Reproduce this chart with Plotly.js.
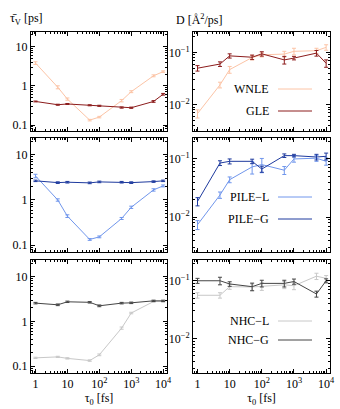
<!DOCTYPE html>
<html>
<head>
<meta charset="utf-8">
<script src="https://cdn.plot.ly/plotly-3.0.1.min.js"></script>
<style>
  html, body { margin: 0; padding: 0; background: #fff; }
  #plot { width: 340px; height: 409px; }
</style>
</head>
<body>
<div id="plot"></div>
<script>
// tau_0 in fs
var tau0 = [1, 5, 10, 50, 100, 500, 1000, 5000, 10000];

// relaxation time tau_V [ps]
var tauWNLE = [3.8, 0.92, 0.46, 0.134, 0.16, 0.42, 0.71, 1.8, 2.3];
var tauWNLEerr = [0.3, 0.08, 0.03, 0.006, 0.007, 0.03, 0.04, 0.1, 0.1];
var tauGLE = [0.40, 0.33, 0.345, 0.32, 0.31, 0.28, 0.277, 0.40, 0.61];
var tauGLEerr = [0.01, 0.01, 0.01, 0.01, 0.01, 0.01, 0.01, 0.02, 0.03];
var tauPILEL = [3.4, 1.0, 0.44, 0.134, 0.153, 0.39, 0.69, 1.67, 2.05];
var tauPILELerr = [0.3, 0.06, 0.03, 0.006, 0.007, 0.02, 0.04, 0.1, 0.1];
var tauPILEG = [2.65, 2.42, 2.47, 2.39, 2.51, 2.47, 2.42, 2.55, 2.65];
var tauPILEGerr = [0.1, 0.1, 0.1, 0.1, 0.1, 0.1, 0.1, 0.1, 0.1];
var tauNHCL = [0.154, 0.162, 0.15, 0.134, 0.18, 0.71, 1.54, 2.78, 2.78];
var tauNHCLerr = [0.005, 0.005, 0.005, 0.005, 0.008, 0.04, 0.06, 0.1, 0.1];
var tauNHCG = [2.56, 2.35, 2.74, 2.67, 2.23, 2.56, 2.6, 2.88, 2.88];
var tauNHCGerr = [0.1, 0.1, 0.1, 0.1, 0.1, 0.1, 0.1, 0.1, 0.1];

// diffusion coefficient D [A^2/ps]
var dWNLE = [0.0068, 0.024, 0.047, 0.080, 0.090, 0.093, 0.105, 0.108, 0.125];
var dWNLEerr = [0.0012, 0.003, 0.007, 0.008, 0.008, 0.012, 0.015, 0.012, 0.015];
var dGLE = [0.050, 0.060, 0.086, 0.081, 0.094, 0.072, 0.078, 0.097, 0.062];
var dGLEerr = [0.006, 0.006, 0.008, 0.008, 0.009, 0.012, 0.006, 0.012, 0.010];
var dPILEL = [0.0074, 0.024, 0.044, 0.073, 0.080, 0.064, 0.100, 0.103, 0.091];
var dPILELerr = [0.0013, 0.003, 0.005, 0.018, 0.022, 0.010, 0.012, 0.012, 0.013];
var dPILEG = [0.0186, 0.085, 0.091, 0.091, 0.067, 0.114, 0.114, 0.108, 0.111];
var dPILEGerr = [0.003, 0.008, 0.009, 0.008, 0.008, 0.008, 0.006, 0.012, 0.015];
var dNHCL = [0.056, 0.056, 0.079, 0.078, 0.080, 0.085, 0.082, 0.120, 0.110];
var dNHCLerr = [0.006, 0.006, 0.008, 0.010, 0.012, 0.012, 0.012, 0.015, 0.013];
var dNHCG = [0.100, 0.100, 0.088, 0.079, 0.090, 0.090, 0.097, 0.059, 0.100];
var dNHCGerr = [0.010, 0.015, 0.008, 0.012, 0.012, 0.012, 0.010, 0.007, 0.008];

var names = ['WNLE', 'GLE', 'PILE\u2212L', 'PILE\u2212G', 'NHC\u2212L', 'NHC\u2212G'];
var colors = ['#fcc4a6', '#8c1c1c', '#7096ec', '#1e3a9e', '#c8c8c8', '#454545'];

var xTickVals = [1, 10, 100, 1000, 10000];
var xTickText = ['1', '10', '10<sup>2</sup>', '10<sup>3</sup>', '10<sup>4</sup>'];
var tauTickVals = [0.1, 1, 10];
var tauTickText = ['0.1', '1', '10'];
var dTickVals = [0.01, 0.1];
var dTickText = ['10<sup>\u22122</sup>', '10<sup>\u22121</sup>'];

var font = 'Liberation Serif, Times New Roman, serif';

function trace(y, err, color, xa, ya) {
    return {
        x: tau0, y: y,
        type: 'scatter', mode: 'lines',
        line: {color: color, width: 1},
        error_y: {type: 'data', array: err, visible: true, color: color, thickness: 1, width: 2},
        xaxis: xa, yaxis: ya,
        showlegend: false
    };
}

var data = [
    trace(tauWNLE, tauWNLEerr, colors[0], 'x', 'y'),
    trace(tauGLE, tauGLEerr, colors[1], 'x', 'y'),
    trace(dWNLE, dWNLEerr, colors[0], 'x2', 'y2'),
    trace(dGLE, dGLEerr, colors[1], 'x2', 'y2'),
    trace(tauPILEL, tauPILELerr, colors[2], 'x3', 'y3'),
    trace(tauPILEG, tauPILEGerr, colors[3], 'x3', 'y3'),
    trace(dPILEL, dPILELerr, colors[2], 'x4', 'y4'),
    trace(dPILEG, dPILEGerr, colors[3], 'x4', 'y4'),
    trace(tauNHCL, tauNHCLerr, colors[4], 'x5', 'y5'),
    trace(tauNHCG, tauNHCGerr, colors[5], 'x5', 'y5'),
    trace(dNHCL, dNHCLerr, colors[4], 'x6', 'y6'),
    trace(dNHCG, dNHCGerr, colors[5], 'x6', 'y6')
];

var W = 340, H = 409;
function px(v) { return v / W; }
function py(v) { return 1 - v / H; }

var colX = [[px(31), px(167)], [px(193), px(330)]];
var rowY = [[py(131), py(32)], [py(252), py(138)], [py(373), py(260)]];

function xaxis(col, row, anchor) {
    var ax = {
        type: 'log', domain: colX[col], range: [-0.14, 4.12], anchor: anchor,
        showline: true, linecolor: '#000', linewidth: 1, mirror: 'allticks',
        ticks: 'inside', ticklen: 4, tickcolor: '#000',
        tickvals: xTickVals, ticktext: xTickText,
        minor: {dtick: 'D1', ticks: 'inside', ticklen: 2, tickcolor: '#000'},
        showgrid: false, zeroline: false,
        showticklabels: row === 2,
        tickfont: {family: font, size: 12, color: '#000'}
    };
    if (row === 2) {
        ax.title = {text: '\u03c4<sub>0</sub> [fs]', font: {family: font, size: 12, color: '#000'}, standoff: 2};
    }
    return ax;
}

function yaxis(col, row, anchor) {
    var ax = {
        type: 'log', domain: rowY[row], anchor: anchor,
        showline: true, linecolor: '#000', linewidth: 1, mirror: 'allticks',
        ticks: 'inside', ticklen: 4, tickcolor: '#000',
        minor: {dtick: 'D1', ticks: 'inside', ticklen: 2, tickcolor: '#000'},
        showgrid: false, zeroline: false,
        tickfont: {family: font, size: 12, color: '#000'}
    };
    if (col === 0) {
        ax.range = [-1.15, 1.37];
        ax.tickvals = tauTickVals;
        ax.ticktext = tauTickText;
    } else {
        ax.range = row === 0 ? [-2.5, -0.61] : [-2.6, -0.64];
        ax.tickvals = dTickVals;
        ax.ticktext = dTickText;
    }
    return ax;
}

var layout = {
    width: W, height: H,
    margin: {l: 0, r: 0, t: 0, b: 0},
    paper_bgcolor: '#fff', plot_bgcolor: '#fff',
    font: {family: font, size: 12, color: '#000'},
    showlegend: false,
    xaxis: xaxis(0, 0, 'y'), yaxis: yaxis(0, 0, 'x'),
    xaxis2: xaxis(1, 0, 'y2'), yaxis2: yaxis(1, 0, 'x2'),
    xaxis3: xaxis(0, 1, 'y3'), yaxis3: yaxis(0, 1, 'x3'),
    xaxis4: xaxis(1, 1, 'y4'), yaxis4: yaxis(1, 1, 'x4'),
    xaxis5: xaxis(0, 2, 'y5'), yaxis5: yaxis(0, 2, 'x5'),
    xaxis6: xaxis(1, 2, 'y6'), yaxis6: yaxis(1, 2, 'x6'),
    annotations: [
        {text: '\u03c4\u0304<sub>V</sub> [ps]', xref: 'paper', yref: 'paper', x: px(8), y: py(19),
         xanchor: 'left', yanchor: 'middle', showarrow: false, font: {family: font, size: 12}},
        {text: 'D [\u00c5<sup>2</sup>/ps]', xref: 'paper', yref: 'paper', x: px(174), y: py(19),
         xanchor: 'left', yanchor: 'middle', showarrow: false, font: {family: font, size: 12}}
    ],
    shapes: []
};

// legend entries drawn as text followed by a line sample
var legendRows = [89, 111, 197, 219, 321, 340];
for (var i = 0; i < names.length; i++) {
    layout.annotations.push({
        text: names[i], xref: 'paper', yref: 'paper', x: px(271), y: py(legendRows[i]),
        xanchor: 'right', yanchor: 'middle', showarrow: false, font: {family: font, size: 12}
    });
    layout.shapes.push({
        type: 'line', xref: 'paper', yref: 'paper',
        x0: px(278), x1: px(312), y0: py(legendRows[i]), y1: py(legendRows[i]),
        line: {color: colors[i], width: 1}
    });
}

Plotly.newPlot('plot', data, layout, {displayModeBar: false, staticPlot: true});
</script>
</body>
</html>
